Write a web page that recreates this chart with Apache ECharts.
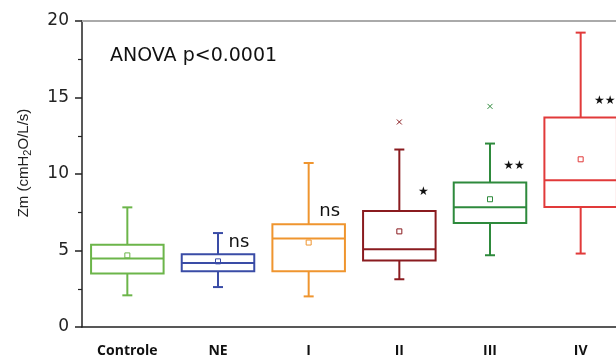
<!DOCTYPE html>
<html><head><meta charset="utf-8">
<script src="https://cdn.jsdelivr.net/npm/echarts@6/dist/echarts.min.js"></script>
<style>html,body{margin:0;padding:0;background:#fff}#c{width:616px;height:363px}</style>
</head><body><div id="c"></div>
<script>
var categories = ['Controle','NE','I','II','III','IV'];
var colors = ['#6cb54a','#3a4ca6','#ef952f','#8a1b1f','#2e8a3c','#e13a3a'];
var whiskerLow  = [2.07, 2.61, 2.00, 3.12, 4.69, 4.80];
var q1          = [3.49, 3.64, 3.64, 4.34, 6.80, 7.84];
var medians     = [4.47, 4.18, 5.78, 5.08, 7.82, 9.59];
var q3          = [5.38, 4.75, 6.71, 7.58, 9.44, 13.69];
var whiskerHigh = [7.82, 6.14, 10.72, 11.60, 11.99, 19.24];
var means       = [4.68, 4.29, 5.52, 6.25, 8.35, 10.96];
var outlierCat  = [3, 4];
var outlierVal  = [13.4, 14.42];
var annoText    = ['', 'ns', 'ns', '★', '★★', '★★'];
var annoY       = [null, 5.53, 7.56, 8.8, 10.5, 14.8];
var yTicks      = [0, 5, 10, 15, 20];

var boxData = categories.map(function(c,i){return [i, whiskerLow[i], q1[i], medians[i], q3[i], whiskerHigh[i], means[i]];});
var outData = outlierCat.map(function(c,i){return [c, outlierVal[i]];});
var annoData = [];
categories.forEach(function(c,i){ if(annoText[i]) annoData.push([i, annoY[i], annoText[i]]); });

var chart = echarts.init(document.getElementById('c'));
chart.setOption({
  animation:false,
  grid:{left:82, top:21, right:-10, bottom:36, outerBoundsMode:'none', containLabel:false},
  xAxis:[{
    type:'category', data:categories, position:'bottom',
    axisLine:{lineStyle:{color:'#222', width:1.5}},
    axisTick:{alignWithLabel:true, length:6, lineStyle:{color:'#222', width:1.5}},
    axisLabel:{fontFamily:'Open Sans', fontWeight:'bold', fontSize:14, color:'#111', margin:17},
    splitLine:{show:false}
  },{
    type:'category', data:categories, position:'top',
    axisLine:{lineStyle:{color:'#aaa', width:2}},
    axisTick:{show:false}, axisLabel:{show:false}
  }],
  yAxis:{
    type:'value', min:yTicks[0], max:yTicks[yTicks.length-1], interval:5,
    axisLine:{show:true, lineStyle:{color:'#222', width:1.5}},
    axisTick:{show:true, length:7, lineStyle:{color:'#222', width:1.5}},
    minorTick:{show:true, splitNumber:2, length:4, lineStyle:{color:'#222', width:1.2}},
    axisLabel:{fontFamily:'DejaVu Sans', fontSize:17, color:'#222', margin:13},
    splitLine:{show:false}
  },
  graphic:[
    {type:'text', left:110, top:47, style:{text:'ANOVA p<0.0001', fontFamily:'DejaVu Sans', fontSize:19, fill:'#111'}},
    {type:'text', x:24, y:163, rotation:Math.PI/2, style:{
      text:'{a|Zm (cmH}{s|2}{a|O/L/s)}', align:'center', verticalAlign:'middle',
      rich:{a:{fontFamily:'Liberation Sans Narrow, Liberation Sans', fontSize:15, fill:'#222'},
            s:{fontFamily:'Liberation Sans Narrow, Liberation Sans', fontSize:11, fill:'#222', padding:[8,0,0,0]}}}}
  ],
  series:[{
    type:'custom', data:boxData, clip:false,
    renderItem:function(params, api){
      var i = api.value(0);
      var col = colors[i];
      var bw = api.size([1,0])[0]*0.8;
      var cx = api.coord([i, 0])[0];
      var pLow = api.coord([i, api.value(1)])[1];
      var pQ1 = api.coord([i, api.value(2)])[1];
      var pMed = api.coord([i, api.value(3)])[1];
      var pQ3 = api.coord([i, api.value(4)])[1];
      var pHigh = api.coord([i, api.value(5)])[1];
      var pMean = api.coord([i, api.value(6)])[1];
      var st = {stroke:col, fill:null, lineWidth:2};
      var cap = 5;
      return {type:'group', children:[
        {type:'line', shape:{x1:cx, y1:pQ3, x2:cx, y2:pHigh}, style:st},
        {type:'line', shape:{x1:cx, y1:pQ1, x2:cx, y2:pLow}, style:st},
        {type:'line', shape:{x1:cx-cap, y1:pHigh, x2:cx+cap, y2:pHigh}, style:st},
        {type:'line', shape:{x1:cx-cap, y1:pLow, x2:cx+cap, y2:pLow}, style:st},
        {type:'rect', shape:{x:cx-bw/2, y:pQ3, width:bw, height:pQ1-pQ3}, style:{stroke:col, fill:'#fff', lineWidth:2}},
        {type:'line', shape:{x1:cx-bw/2, y1:pMed, x2:cx+bw/2, y2:pMed}, style:st},
        {type:'rect', shape:{x:cx-2.5, y:pMean-2.5, width:5, height:5}, style:{stroke:col, fill:null, lineWidth:1}}
      ]};
    }
  },{
    type:'custom', data:outData, clip:false,
    renderItem:function(params, api){
      var i = api.value(0);
      var p = api.coord([i, api.value(1)]);
      var col = colors[i], s = 2.5;
      return {type:'group', children:[
        {type:'line', shape:{x1:p[0]-s, y1:p[1]-s, x2:p[0]+s, y2:p[1]+s}, style:{stroke:col, lineWidth:1}},
        {type:'line', shape:{x1:p[0]-s, y1:p[1]+s, x2:p[0]+s, y2:p[1]-s}, style:{stroke:col, lineWidth:1}}
      ]};
    }
  },{
    type:'custom', data:annoData, clip:false,
    renderItem:function(params, api){
      var i = api.value(0);
      var p = api.coord([i, api.value(1)]);
      var t = annoData[params.dataIndex][2];
      var isStar = t.indexOf('★')>=0;
      return {type:'text', x:p[0]+(isStar?24:21), y:p[1],
        style:{text:t, fontFamily:'DejaVu Sans', fontSize:isStar?12:18, fill:'#111', align:'center', verticalAlign:'middle'}};
    }
  }]
});
</script></body></html>
